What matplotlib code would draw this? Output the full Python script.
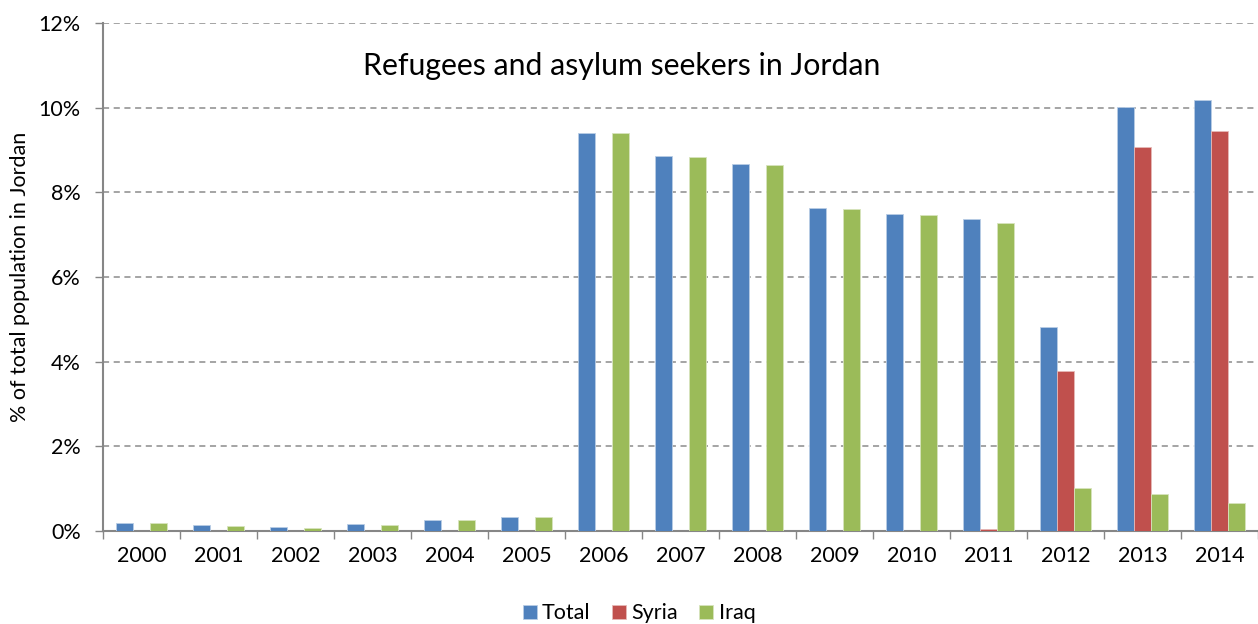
import numpy as np
import matplotlib.pyplot as plt
from matplotlib.ticker import FuncFormatter, FixedLocator

plt.rcParams['font.family'] = ['Lato', 'DejaVu Sans']

years = ['2000', '2001', '2002', '2003', '2004', '2005', '2006', '2007',
         '2008', '2009', '2010', '2011', '2012', '2013', '2014']
total = [0.19, 0.14, 0.10, 0.16, 0.26, 0.33, 9.41, 8.86, 8.68, 7.62, 7.48, 7.36, 4.83, 10.02, 10.18]
syria = [0, 0, 0, 0, 0, 0, 0, 0, 0, 0, 0, 0.05, 3.78, 9.06, 9.44]
iraq = [0.18, 0.12, 0.08, 0.15, 0.25, 0.32, 9.40, 8.84, 8.65, 7.60, 7.46, 7.28, 1.01, 0.88, 0.66]

fig = plt.figure(figsize=(12.58, 6.24), dpi=100)
ax = fig.add_axes([103/1258, 93/624, 1 - 103/1258, 508/624])

x = np.arange(len(years))
w = 0.225
grey = '#868686'
ax.bar(x - w, total, w, color='#4F81BD', edgecolor='#B9CDE5', linewidth=0.6, label='Total', zorder=3)
ax.bar(x, syria, w, color='#C0504D', edgecolor='#E6B9B8', linewidth=0.6, label='Syria', zorder=3)
ax.bar(x + w, iraq, w, color='#9BBB59', edgecolor='#D7E4BD', linewidth=0.6, label='Iraq', zorder=3)

ax.set_xlim(-0.5, len(years) - 0.5)
ax.set_ylim(0, 12)
ax.set_yticks(np.arange(0, 13, 2))
ax.yaxis.set_major_formatter(FuncFormatter(lambda v, p: '%d%%' % v))
ax.grid(axis='y', linestyle=(0, (4, 3)), color='#8c8c8c', linewidth=1.1, zorder=0)

ax.set_xticks(x)
ax.set_xticklabels(years)
ax.xaxis.set_minor_locator(FixedLocator(np.arange(-0.5, len(years), 1)))
ax.tick_params(axis='x', which='major', length=0, labelsize=15.5, pad=11)
ax.tick_params(axis='x', which='minor', length=6, color=grey, width=1)
ax.tick_params(axis='y', length=6, color=grey, width=1, labelsize=15.5, pad=10)

for s in ['top', 'right']:
    ax.spines[s].set_visible(False)
for s in ['left', 'bottom']:
    ax.spines[s].set_color(grey)
    ax.spines[s].set_linewidth(1.5)

ax.set_ylabel('% of total population in Jordan', fontsize=15.5, labelpad=6)
ax.text(0.225, 0.915, 'Refugees and asylum seekers in Jordan', transform=ax.transAxes,
        fontsize=21.8, ha='left', va='center')

fig.legend(loc='lower center', bbox_to_anchor=(0.508, -0.03), ncol=3, frameon=False,
           fontsize=15.5, handlelength=0.65, handleheight=0.65, handletextpad=0.25, columnspacing=1.0)

fig.savefig('out.png', dpi=100)
